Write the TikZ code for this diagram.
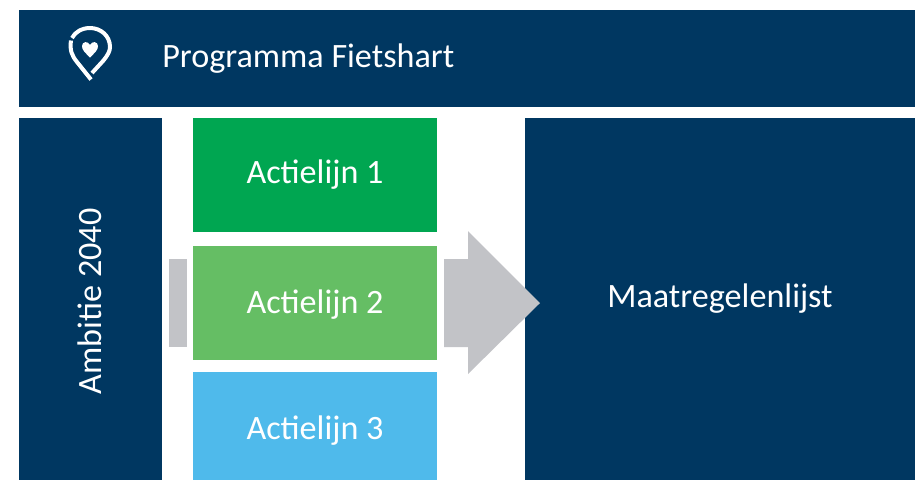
\documentclass[tikz,border=0pt]{standalone}
\usepackage{fontspec}
\setmainfont{Carlito}
\definecolor{navy}{HTML}{003761}
\definecolor{dgreen}{HTML}{00A651}
\definecolor{lgreen}{HTML}{65BE64}
\definecolor{sky}{HTML}{4FBAEB}
\definecolor{greyb}{HTML}{C2C3C7}
\begin{document}
\begin{tikzpicture}[x=0.75pt,y=-0.75pt,
  lab/.style={text=white,font=\fontsize{25.6pt}{28pt}\selectfont,inner sep=0pt}]
\useasboundingbox (0,0) rectangle (919,480);
\fill[navy] (19,10) rectangle (915,107);
\fill[navy] (19,118) rectangle (162,480);
\fill[navy] (525,118) rectangle (915,480);
\fill[dgreen] (193,118) rectangle (437,232);
\fill[lgreen] (193,246) rectangle (437,360);
\fill[sky] (193,372) rectangle (437,480);
\fill[greyb] (169,259) rectangle (187,347);
\fill[greyb] (444,259) -- (468,259) -- (468,231) -- (540,303) -- (468,374) -- (468,347) -- (444,347) -- cycle;
% icon
\draw[white,line width=3pt,line cap=butt]
  (92,73) -- (103,61) .. controls (108,55) and (110,51) .. (110,47)
  .. controls (110,36) and (101,28) .. (90,28)
  .. controls (82,28) and (75,32) .. (72,38);
\draw[white,line width=3pt,line cap=butt]
  (71,40.5) .. controls (69.5,50) and (72,56) .. (77,62) -- (91,79.5);
\fill[white] (90,57.5)
  .. controls (85,52.5) and (82,50) .. (82,46)
  .. controls (82,41.5) and (88,40.5) .. (90,45)
  .. controls (92,40.5) and (98,41.5) .. (98,46)
  .. controls (98,50) and (95,52.5) .. (90,57.5) -- cycle;
\node[lab,anchor=west] (title) at (162,59) {Programma Fietshart};
\node[lab,rotate=90] (amb) at (90,301.5) {Ambitie 2040};
\node[lab] (a1) at (315,175) {Actielijn 1};
\node[lab] (a2) at (315,305) {Actielijn 2};
\node[lab] (a3) at (315,431) {Actielijn 3};
\node[lab] (m) at (720,299) {Maatregelenlijst};
\end{tikzpicture}
\end{document}
